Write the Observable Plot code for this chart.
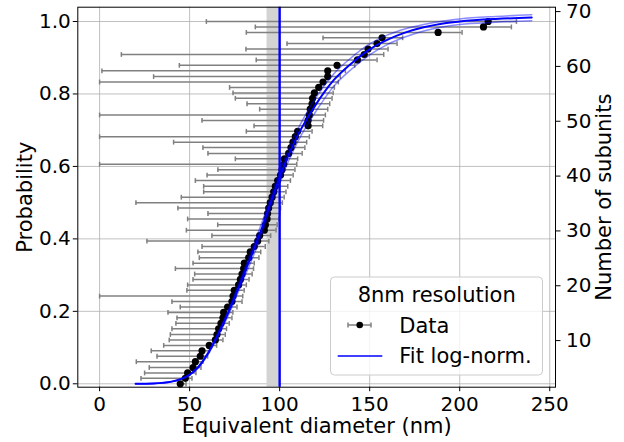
<!DOCTYPE html>
<html><head><meta charset="utf-8">
<script src="https://cdn.jsdelivr.net/npm/d3@7"></script>
<script src="https://cdn.jsdelivr.net/npm/@observablehq/plot@0.6"></script>
<style>
body{margin:0;background:#fff;}
#wrap{position:relative;width:624px;height:442px;}
</style></head><body><div id="wrap"></div>
<script>
// Empirical CDF values (probability) of each subunit
const probability = [0,0.015,0.030,0.045,0.061,0.076,0.091,0.106,0.121,0.136,0.152,0.167,0.182,0.197,0.212,0.227,0.242,0.258,0.273,0.288,0.303,0.318,0.333,0.348,0.364,0.379,0.394,0.409,0.424,0.439,0.455,0.470,0.485,0.500,0.515,0.530,0.545,0.561,0.576,0.591,0.606,0.621,0.636,0.652,0.667,0.682,0.697,0.712,0.727,0.742,0.758,0.773,0.788,0.803,0.818,0.833,0.848,0.864,0.879,0.894,0.909,0.924,0.939,0.955,0.970,0.985,1.000];
// Equivalent diameter (nm) of each point
const diameter = [44.8,47.6,48.9,51.9,53.2,55.9,56.9,60.9,64.3,65.2,66.1,67.4,68.5,68.9,71.1,73.5,74.1,74.8,77.2,78.2,79.1,80.0,80.4,82.8,83.7,85.9,87.8,88.9,91.5,92.1,93.0,93.3,93.9,94.8,95.8,96.7,97.6,98.9,100.5,101.3,102.2,102.6,105.0,106.3,107.4,108.7,110.0,115.8,115.8,116.5,117.0,118.0,118.3,119.3,121.7,124.1,126.7,126.7,131.9,143.2,147.0,149.1,154.1,156.9,188.0,213.2,215.8];
// Error bar left ends (nm)
const errLow = [44,23,25,27.6,20.4,31.9,28.7,35.6,38.7,39.3,40.2,42.4,43,38,44.8,40.2,0,48.5,48.9,51.9,52.8,42.1,51.9,55.4,54.6,56.9,26.3,62.4,48.2,65.6,48.9,60.2,43.5,20.2,45.4,57.8,57.8,53.2,59.7,65.7,0,75.4,60.2,57.4,41.1,0,81.5,85.8,56.9,0,88.9,81.9,75.4,74.1,72.2,0,30,1.3,44.3,87,12.1,81.3,104.1,124.1,81.5,86.5,59.3];
// Error bar right ends (nm)
const errHigh = [48,51.3,53.5,56.3,57.4,60,61,65,68.5,69.8,70.5,72,73.5,74,76.3,79.1,79.5,80.3,81.5,83,84.7,85.5,85.9,88.5,89.5,92,94,95,98,98.6,99.5,100,100.5,101.5,102.5,103.5,104.5,106,107.5,108.5,109.5,110,112.5,114,115,116.5,118,123.9,124.4,125.4,126.7,127.8,129.1,129.7,130.4,132.6,133.7,136.5,141.7,154.1,157.8,160.2,165.2,168.3,201.3,228.7,231.5];

// Log-normal fit and its confidence envelope
const fitX     = [20,30,40,45,50,55,60,65,70,75,80,85,90,95,100,105,110,115,120,130,140,150,160,170,180,190,200,220,240];
const fitMain  = [0.000,0.001,0.006,0.013,0.025,0.047,0.082,0.128,0.180,0.238,0.300,0.362,0.428,0.500,0.570,0.632,0.685,0.730,0.770,0.838,0.885,0.923,0.950,0.970,0.984,0.994,1.000,1.007,1.011];
const fitUpper = [0.000,0.001,0.006,0.013,0.026,0.049,0.085,0.133,0.187,0.247,0.311,0.376,0.443,0.515,0.585,0.648,0.702,0.748,0.789,0.855,0.901,0.938,0.963,0.980,0.992,1.001,1.007,1.014,1.019];
const fitLower = [0.000,0.001,0.006,0.013,0.024,0.045,0.079,0.123,0.173,0.229,0.289,0.348,0.413,0.485,0.555,0.616,0.668,0.712,0.751,0.821,0.869,0.908,0.937,0.958,0.974,0.985,0.992,0.998,1.002];

const resolutionLine = [100];
const resolutionBand = [93, 100];

const xTicks = [0,50,100,150,200,250];
const yTicks = [0,0.2,0.4,0.6,0.8,1.0];
const subunitTicks = [10,20,30,40,50,60,70];
const xDomain = [-12.1, 253.2];
const yDomain = [-0.0094, 1.0395];
const subunitDomain = [1.5, 70.8];

const rows = probability.map((p,i)=>({p, d: diameter[i], lo: errLow[i], hi: errHigh[i]}));
const fitRows = (arr)=>fitX.map((x,i)=>({x, y: arr[i]}));
const toP = d3.scaleLinear().domain(subunitDomain).range(yDomain);

const capSymbol = {draw(ctx, size){ const h = Math.sqrt(size/Math.PI); ctx.moveTo(0,-h); ctx.lineTo(0,h); }};

const font = "DejaVu Sans";
const chart = Plot.plot({
  width: 624, height: 442,
  marginLeft: 77.3, marginRight: 69, marginTop: 6.7, marginBottom: 55.3,
  style: {fontFamily: font, fontSize: "20px", background: "white", color: "black"},
  x: {domain: xDomain},
  y: {domain: yDomain},
  marks: [
    Plot.gridX(xTicks, {stroke: "#b0b0b0", strokeOpacity: 1, strokeWidth: 0.8}),
    Plot.gridY(yTicks, {stroke: "#b0b0b0", strokeOpacity: 1, strokeWidth: 0.8}),
    Plot.rect([resolutionBand], {x1: d=>d[0], x2: d=>d[1], fill: "#d3d3d3", fillOpacity: 1}),
    Plot.ruleY(rows, {y: "p", x1: "lo", x2: "hi", stroke: "#808080", strokeWidth: 1.5}),
    Plot.dot(rows, {x: "lo", y: "p", symbol: capSymbol, r: 2.4, stroke: "#808080", strokeWidth: 1.5}),
    Plot.dot(rows, {x: "hi", y: "p", symbol: capSymbol, r: 2.4, stroke: "#808080", strokeWidth: 1.5}),
    Plot.dot(rows, {x: "d", y: "p", r: 3.6, fill: "black", stroke: "none"}),
    Plot.ruleX(resolutionLine, {stroke: "#0000ff", strokeWidth: 2.4}),
    Plot.line(fitRows(fitUpper), {x: "x", y: "y", curve: "monotone-x", stroke: "#0000ff", strokeOpacity: 0.45, strokeWidth: 1.5}),
    Plot.line(fitRows(fitLower), {x: "x", y: "y", curve: "monotone-x", stroke: "#0000ff", strokeOpacity: 0.45, strokeWidth: 1.5}),
    Plot.line(fitRows(fitMain), {x: "x", y: "y", curve: "monotone-x", stroke: "#0000ff", strokeWidth: 2}),
    Plot.frame({stroke: "black", strokeWidth: 1}),
    Plot.axisX(xTicks, {tickSize: 4.5, tickPadding: 5, label: null, stroke: "black"}),
    Plot.axisY(yTicks, {anchor: "left", tickSize: 4.5, tickPadding: 2.5, tickFormat: d=>d.toFixed(1), label: null, stroke: "black"}),
    Plot.axisY(subunitTicks.map(toP), {anchor: "right", tickSize: 4.5, tickPadding: 6, tickFormat: p=>String(Math.round(toP.invert(p))), label: null, stroke: "black"}),
    Plot.text(["Equivalent diameter (nm)"], {frameAnchor: "bottom", dy: 45.5, text: d=>d, fontSize: 21, fill: "black", textAnchor: "middle"}),
    Plot.text(["Probability"], {frameAnchor: "left", dx: -53, rotate: -90, text: d=>d, fontSize: 21, fill: "black", textAnchor: "middle"}),
    Plot.text(["Number of subunits"], {frameAnchor: "right", dx: 48.3, rotate: -90, text: d=>d, fontSize: 21, fill: "black", textAnchor: "middle"})
  ]
});
document.getElementById("wrap").appendChild(chart);

// Legend overlay
const leg = d3.select("#wrap").append("svg")
  .attr("width", 624).attr("height", 442)
  .style("position", "absolute").style("left", "0px").style("top", "0px")
  .style("font-family", font).style("font-size", "21px");
leg.append("rect").attr("x", 330.5).attr("y", 277).attr("width", 212).attr("height", 98).attr("rx", 4)
  .attr("fill", "white").attr("fill-opacity", 0.8).attr("stroke", "#cccccc").attr("stroke-width", 1);
leg.append("text").attr("x", 436.7).attr("y", 301.5).attr("text-anchor", "middle").text("8nm resolution");
leg.append("line").attr("x1", 348).attr("x2", 371).attr("y1", 325).attr("y2", 325).attr("stroke", "#808080").attr("stroke-width", 1.5);
[348, 371].forEach(x => leg.append("line").attr("x1", x).attr("x2", x).attr("y1", 322.6).attr("y2", 327.4).attr("stroke", "#808080").attr("stroke-width", 1.5));
leg.append("circle").attr("cx", 359.7).attr("cy", 325).attr("r", 3.3).attr("fill", "black");
leg.append("text").attr("x", 399.3).attr("y", 332.7).text("Data");
leg.append("line").attr("x1", 337.7).attr("x2", 382.3).attr("y1", 356).attr("y2", 356).attr("stroke", "#0000ff").attr("stroke-width", 1.5);
leg.append("text").attr("x", 399.3).attr("y", 363).text("Fit log-norm.");
</script></body></html>
